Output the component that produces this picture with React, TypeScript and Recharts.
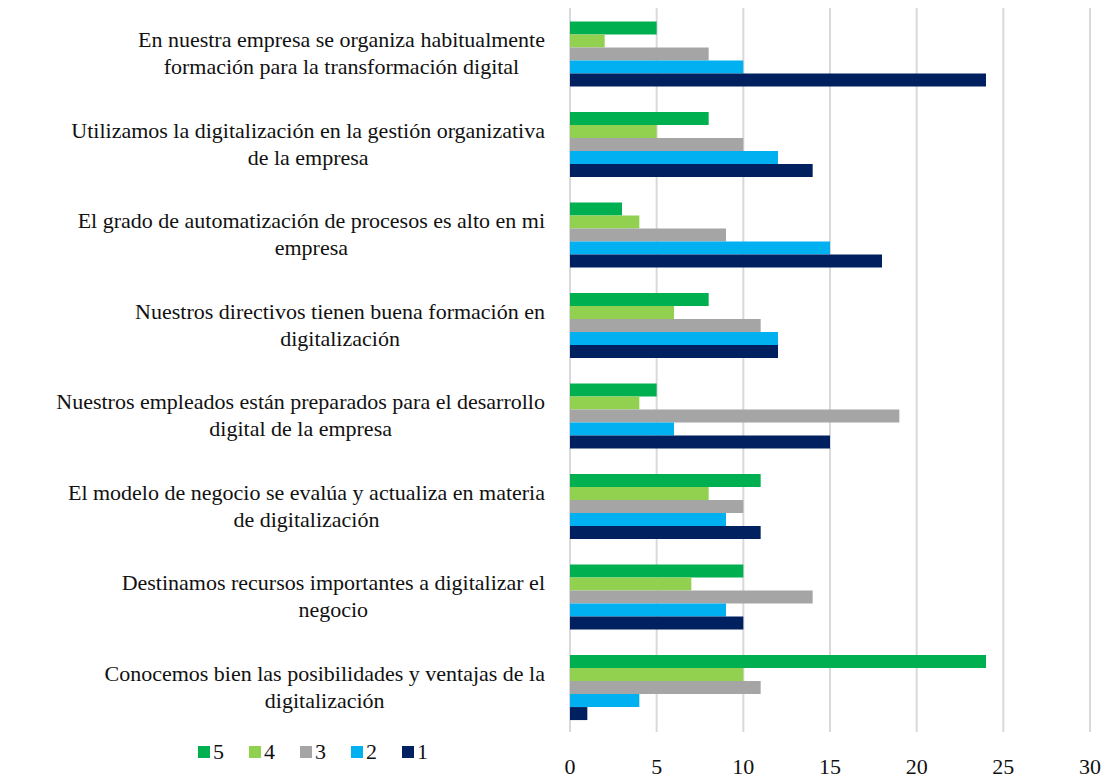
import React from "react";
import { BarChart, Bar, XAxis, YAxis, CartesianGrid, Legend } from "recharts";

const categories = [
  "En nuestra empresa se organiza habitualmente\nformación para la transformación digital",
  "Utilizamos la digitalización en la gestión organizativa\nde la empresa",
  "El grado de automatización de procesos es alto en mi\nempresa",
  "Nuestros directivos tienen buena formación en\ndigitalización",
  "Nuestros empleados están preparados para el desarrollo\ndigital de la empresa",
  "El modelo de negocio se evalúa y actualiza en materia\nde digitalización",
  "Destinamos recursos importantes a digitalizar el\nnegocio",
  "Conocemos bien las posibilidades y ventajas de la\ndigitalización",
];

const s5 = [5, 8, 3, 8, 5, 11, 10, 24];
const s4 = [2, 5, 4, 6, 4, 8, 7, 10];
const s3 = [8, 10, 9, 11, 19, 10, 14, 11];
const s2 = [10, 12, 15, 12, 6, 9, 9, 4];
const s1 = [24, 14, 18, 12, 15, 11, 10, 1];

const xTicks = [0, 5, 10, 15, 20, 25, 30];

const series = [
  { key: "5", color: "#00b050" },
  { key: "4", color: "#92d050" },
  { key: "3", color: "#a5a5a5" },
  { key: "2", color: "#00b0f0" },
  { key: "1", color: "#002060" },
];

const data = categories.map((name, i) => ({
  name,
  "5": s5[i],
  "4": s4[i],
  "3": s3[i],
  "2": s2[i],
  "1": s1[i],
}));

const FONT = "Tinos, 'Times New Roman', Times, 'Liberation Serif', 'DejaVu Serif', 'Noto Serif', serif";
const FONT_SIZE = 22;
const TEXT = "#111";

// relative line widths, so the short line sits centred under the long one
let ctx: CanvasRenderingContext2D | null = null;
const measure = (s: string) => {
  if (!ctx) ctx = document.createElement("canvas").getContext("2d");
  if (!ctx) return s.length * 9;
  ctx.font = `${FONT_SIZE}px ${FONT}`;
  return ctx.measureText(s).width;
};

const CategoryTick = (props: any) => {
  const { x, y, payload } = props;
  const lines = String(payload.value).split("\n");
  const widths = lines.map(measure);
  const w = Math.max(...widths);
  const right = x - 17;
  return (
    <g>
      {lines.map((l, i) => (
        <text
          key={i}
          x={right - (w - widths[i]) / 2}
          y={y + (i === 0 ? -6 : 21)}
          textAnchor="end"
          fill={TEXT}
          style={{ fontFamily: FONT, fontSize: FONT_SIZE }}
        >
          {l}
        </text>
      ))}
    </g>
  );
};

const LegendContent = () => (
  <div style={{ display: "flex", fontFamily: FONT, fontSize: FONT_SIZE, color: TEXT }}>
    {series.map((s) => (
      <div key={s.key} style={{ display: "flex", alignItems: "center", marginRight: 25 }}>
        <span style={{ width: 12, height: 12, background: s.color, display: "inline-block", marginRight: 3 }} />
        <span>{s.key}</span>
      </div>
    ))}
  </div>
);

export default function App() {
  return (
    <div style={{ width: 1100, height: 772, background: "#fff" }}>
      <BarChart
        width={1100}
        height={772}
        data={data}
        layout="vertical"
        margin={{ top: 0, right: 18, left: 0, bottom: 18 }}
        barCategoryGap="15%"
        barGap={0}
        style={{ overflow: "visible" }}
      >
        <CartesianGrid horizontal={false} stroke="#d9d9d9" strokeWidth={2} />
        <XAxis
          type="number"
          domain={[0, 30]}
          ticks={xTicks}
          axisLine={false}
          tickLine={false}
          tick={{ fill: TEXT, style: { fontFamily: FONT, fontSize: FONT_SIZE } } as any}
          dy={18}
        />
        <YAxis
          type="category"
          dataKey="name"
          width={562}
          axisLine={false}
          tickLine={false}
          tick={<CategoryTick />}
          interval={0}
        />
        <Legend
          content={<LegendContent />}
          layout="horizontal"
          verticalAlign="middle"
          wrapperStyle={{ position: "absolute", left: 190, top: 731, width: 400 }}
        />
        {series.map((s) => (
          <Bar key={s.key} dataKey={s.key} fill={s.color} isAnimationActive={false} />
        ))}
      </BarChart>
    </div>
  );
}
